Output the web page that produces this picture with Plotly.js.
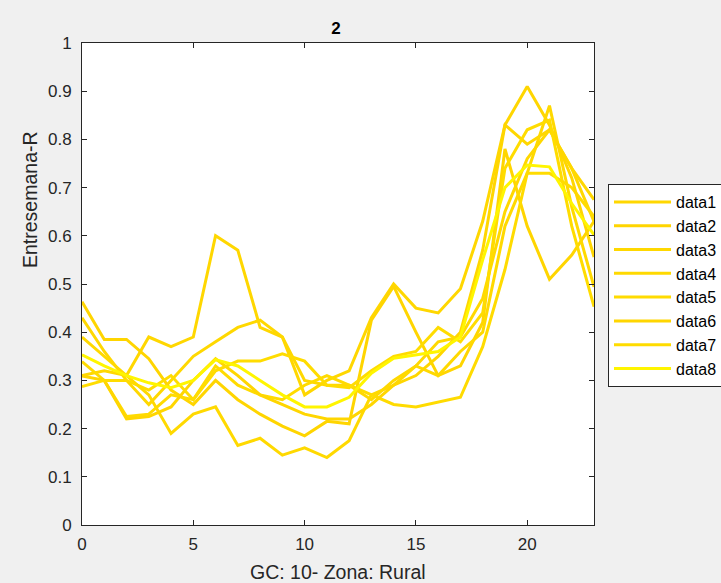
<!DOCTYPE html>
<html>
<head>
<meta charset="utf-8">
<script src="https://cdn.plot.ly/plotly-3.0.1.min.js"></script>
<style>
  html, body { margin: 0; padding: 0; background: #f0f0f0; }
  #chart { width: 721px; height: 583px; }
</style>
</head>
<body>
<div id="chart"></div>
<script>
// Hours of the day
const hours = [0,1,2,3,4,5,6,7,8,9,10,11,12,13,14,15,16,17,18,19,20,21,22,23];

// Series values
const data1 = [0.31, 0.32, 0.31, 0.39, 0.37, 0.39, 0.60, 0.57, 0.41, 0.39, 0.27, 0.30, 0.32, 0.43, 0.50, 0.45, 0.44, 0.49, 0.63, 0.83, 0.79, 0.82, 0.74, 0.675];
const data2 = [0.463, 0.385, 0.385, 0.345, 0.28, 0.25, 0.30, 0.26, 0.23, 0.205, 0.185, 0.215, 0.21, 0.425, 0.495, 0.40, 0.31, 0.33, 0.42, 0.78, 0.62, 0.51, 0.56, 0.63];
const data3 = [0.43, 0.36, 0.30, 0.25, 0.30, 0.35, 0.38, 0.41, 0.425, 0.39, 0.30, 0.29, 0.29, 0.26, 0.30, 0.33, 0.38, 0.39, 0.47, 0.65, 0.76, 0.82, 0.74, 0.63];
const data4 = [0.39, 0.35, 0.31, 0.27, 0.19, 0.23, 0.245, 0.165, 0.18, 0.145, 0.16, 0.14, 0.175, 0.27, 0.29, 0.33, 0.31, 0.36, 0.40, 0.62, 0.73, 0.87, 0.66, 0.494];
const data5 = [0.339, 0.30, 0.225, 0.23, 0.27, 0.26, 0.33, 0.29, 0.27, 0.26, 0.29, 0.31, 0.29, 0.27, 0.25, 0.245, 0.255, 0.265, 0.37, 0.53, 0.73, 0.73, 0.70, 0.64];
const data6 = [0.309, 0.30, 0.22, 0.225, 0.245, 0.30, 0.345, 0.31, 0.27, 0.25, 0.23, 0.22, 0.22, 0.25, 0.29, 0.31, 0.35, 0.40, 0.57, 0.83, 0.91, 0.83, 0.72, 0.556];
const data7 = [0.287, 0.30, 0.30, 0.28, 0.31, 0.26, 0.32, 0.34, 0.34, 0.355, 0.34, 0.29, 0.285, 0.32, 0.35, 0.36, 0.41, 0.38, 0.44, 0.74, 0.82, 0.84, 0.62, 0.453];
const data8 = [0.353, 0.33, 0.31, 0.295, 0.285, 0.30, 0.343, 0.33, 0.30, 0.27, 0.245, 0.245, 0.265, 0.315, 0.346, 0.353, 0.36, 0.39, 0.55, 0.70, 0.747, 0.743, 0.667, 0.602];

const seriesNames = ['data1','data2','data3','data4','data5','data6','data7','data8'];
const seriesValues = [data1, data2, data3, data4, data5, data6, data7, data8];
const seriesColors = ['#FFD700','#FFD500','#FFD800','#FFD900','#FFDB00','#FFD600','#FFDC00','#FFF500'];

const xTickVals = [0, 5, 10, 15, 20];
const yTickVals = [0, 0.1, 0.2, 0.3, 0.4, 0.5, 0.6, 0.7, 0.8, 0.9, 1];
const yTickText = ['0','0.1','0.2','0.3','0.4','0.5','0.6','0.7','0.8','0.9','1'];

const traces = seriesValues.map((vals, i) => ({
  type: 'scatter',
  mode: 'lines',
  x: hours,
  y: vals,
  name: seriesNames[i],
  line: { color: seriesColors[i], width: 3 }
}));

const axisColor = '#262626';
const font = "Liberation Sans, Arial, Helvetica, sans-serif";

const layout = {
  width: 721,
  height: 583,
  paper_bgcolor: '#f0f0f0',
  plot_bgcolor: '#ffffff',
  margin: { l: 82, r: 127, t: 43, b: 58, pad: 0, autoexpand: false },
  font: { family: font, color: axisColor, size: 16 },
  title: {
    text: '<b>2</b>',
    font: { family: font, size: 17, color: '#000000' },
    x: 336 / 721, xref: 'container', xanchor: 'center',
    y: 1 - 28/583, yref: 'container', yanchor: 'middle'
  },
  xaxis: {
    range: [0, 23],
    tickvals: xTickVals,
    ticks: 'inside', ticklen: 5, tickcolor: axisColor, tickwidth: 1,
    showline: true, linecolor: axisColor, linewidth: 1, mirror: 'ticks',
    showgrid: false, zeroline: false,
    tickfont: { family: font, size: 17, color: axisColor },
    ticklabelstandoff: 4,
    fixedrange: true
  },
  yaxis: {
    range: [0, 1],
    tickvals: yTickVals,
    ticktext: yTickText,
    ticks: 'inside', ticklen: 5, tickcolor: axisColor, tickwidth: 1,
    showline: true, linecolor: axisColor, linewidth: 1, mirror: 'ticks',
    showgrid: false, zeroline: false,
    tickfont: { family: font, size: 17, color: axisColor },
    ticklabelstandoff: 6,
    fixedrange: true
  },
  legend: {
    x: (608 - 82) / 512, xref: 'paper', xanchor: 'left',
    y: (525 - 184) / 482, yref: 'paper', yanchor: 'top',
    bgcolor: '#ffffff',
    bordercolor: axisColor, borderwidth: 1,
    font: { family: font, size: 16, color: '#000000' },
    itemwidth: 57,
    tracegroupgap: 0
  },
  showlegend: true,
  annotations: [
    {
      text: 'Entresemana-R',
      xref: 'paper', yref: 'paper',
      x: (30 - 82) / 512, y: (525 - 200) / 482,
      xanchor: 'center', yanchor: 'middle',
      textangle: -90, showarrow: false,
      font: { family: font, size: 19.5, color: axisColor }
    },
    {
      text: 'GC: 10- Zona: Rural',
      xref: 'paper', yref: 'paper',
      x: (338 - 82) / 512, y: (525 - 572) / 482,
      xanchor: 'center', yanchor: 'middle',
      showarrow: false,
      font: { family: font, size: 19.5, color: axisColor }
    }
  ]
};

Plotly.newPlot('chart', traces, layout, { displayModeBar: false, staticPlot: true });
</script>
</body>
</html>
